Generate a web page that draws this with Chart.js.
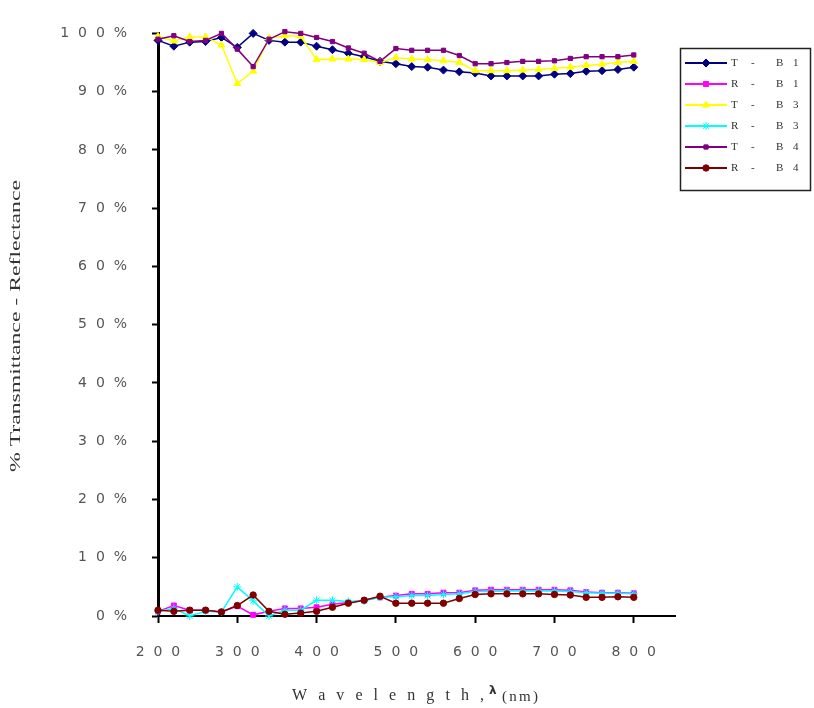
<!DOCTYPE html>
<html>
<head>
<meta charset="utf-8">
<script src="https://cdn.jsdelivr.net/npm/chart.js@4/dist/chart.umd.min.js"></script>
<style>
  html, body { margin: 0; padding: 0; background: #ffffff; }
  #wrap { width: 814px; height: 708px; position: relative; }
</style>
</head>
<body>
<div id="wrap"><canvas id="c" width="814" height="708"></canvas></div>
<script>
// ---- data ----
const wavelengths = [200,220,240,260,280,300,320,340,360,380,400,420,440,460,480,500,520,540,560,580,600,620,640,660,680,700,720,740,760,780,800];

const seriesLabels = ['T - B1', 'R - B1', 'T - B3', 'R - B3', 'T - B4', 'R - B4'];

const tB1 = [98.8,97.8,98.5,98.6,99.3,97.6,100.0,98.8,98.5,98.5,97.8,97.2,96.6,96.0,95.2,94.8,94.3,94.2,93.7,93.4,93.2,92.7,92.7,92.7,92.7,93.0,93.1,93.5,93.6,93.8,94.2];
const rB1 = [0.8,1.8,1.0,1.0,0.7,1.7,0.2,0.8,1.3,1.3,1.5,2.0,2.3,2.7,3.2,3.5,3.8,3.8,4.0,4.0,4.4,4.5,4.5,4.5,4.5,4.5,4.4,4.1,4.0,4.0,3.9];
const tB3 = [99.5,98.7,99.4,99.4,98.0,91.4,93.5,99.2,99.6,99.5,95.5,95.6,95.6,95.5,95.0,95.8,95.6,95.5,95.3,95.0,93.6,93.6,93.6,93.7,93.8,94.0,94.2,94.5,94.7,95.0,95.2];
const rB3 = [0.8,1.3,0.0,0.8,0.7,5.0,2.6,0.0,1.0,1.0,2.7,2.7,2.5,2.6,3.2,3.3,3.5,3.5,3.7,3.8,4.2,4.2,4.3,4.3,4.3,4.3,4.2,4.0,3.9,3.9,3.8];
const tB4 = [99.0,99.6,98.6,98.8,100.0,97.3,94.3,99.0,100.3,100.0,99.3,98.6,97.5,96.6,95.2,97.4,97.1,97.1,97.1,96.2,94.8,94.8,95.0,95.2,95.2,95.3,95.7,96.0,96.0,96.0,96.3];
const rB4 = [1.0,0.8,1.0,1.0,0.7,1.8,3.6,0.8,0.3,0.5,0.8,1.5,2.2,2.7,3.4,2.2,2.2,2.2,2.2,3.0,3.7,3.8,3.8,3.8,3.8,3.7,3.6,3.2,3.2,3.3,3.2];

const yTicks = [0,10,20,30,40,50,60,70,80,90,100];
const xTicks = [200,300,400,500,600,700,800];
const xTitle = ['Wavelength,', 'λ', '(nm)'];
const yTitle = '% Transmittance - Reflectance';

// ---- styles ----
const allSeries = [tB1, rB1, tB3, rB3, tB4, rB4];
const colors = ['#000080', '#ff00ff', '#ffff00', '#00ffff', '#800080', '#800000'];
const markers = ['rectRot', 'rect', 'triangle', 'star', 'rect', 'circle'];
const radii = [4, 3.5, 4, 4, 3, 3.2];

const spaced = s => String(s).split('').join('  ');

const datasets = allSeries.map((vals, i) => ({
  label: seriesLabels[i],
  data: wavelengths.map((w, k) => ({ x: w, y: vals[k] })),
  borderColor: colors[i],
  backgroundColor: colors[i],
  borderWidth: 1.5,
  pointStyle: markers[i],
  pointRadius: radii[i],
  pointBorderWidth: 1,
  pointBackgroundColor: colors[i],
  pointBorderColor: colors[i],
  tension: 0,
  clip: false,
  order: 6 - i
}));

function drawFit(ctx, text, x0, x1, y) {
  const chars = text.split('');
  const widths = chars.map(c => ctx.measureText(c).width);
  const total = widths.reduce((a, b) => a + b, 0);
  const gap = chars.length > 1 ? ((x1 - x0) - total) / (chars.length - 1) : 0;
  let x = x0;
  ctx.textAlign = 'left';
  chars.forEach((c, k) => { ctx.fillText(c, x, y); x += widths[k] + gap; });
}

const decor = {
  id: 'decor',
  afterDraw(chart) {
    const ctx = chart.ctx;
    ctx.save();
    // y title (stretched)
    ctx.fillStyle = '#333333';
    ctx.font = '15px "Liberation Serif"';
    ctx.textBaseline = 'middle';
    ctx.textAlign = 'center';
    const w = ctx.measureText(yTitle).width;
    ctx.translate(16, 326);
    ctx.rotate(-Math.PI / 2);
    ctx.scale(292 / w, 1);
    ctx.fillText(yTitle, 0, 0);
    ctx.restore();

    // x title
    ctx.save();
    ctx.fillStyle = '#333333';
    ctx.textBaseline = 'alphabetic';
    ctx.font = '16px "Liberation Serif"';
    drawFit(ctx, xTitle[0], 292, 484, 700);
    ctx.font = 'bold 12px "DejaVu Sans"';
    ctx.fillText(xTitle[1], 489, 694);
    ctx.font = '15px "Liberation Serif"';
    drawFit(ctx, xTitle[2], 502, 538, 701);
    ctx.restore();

    // legend
    ctx.save();
    ctx.strokeStyle = '#222222';
    ctx.lineWidth = 1.5;
    ctx.strokeRect(680.5, 48.5, 130, 142);
    const rowY = [63, 84, 105, 126, 147, 168];
    chart.data.datasets.forEach((ds, i) => {
      const y = rowY[i];
      ctx.strokeStyle = ds.borderColor;
      ctx.fillStyle = ds.borderColor;
      ctx.lineWidth = 2;
      ctx.beginPath();
      ctx.moveTo(685, y);
      ctx.lineTo(727, y);
      ctx.stroke();
      ctx.lineWidth = 1;
      Chart.helpers.drawPoint(ctx, { pointStyle: ds.pointStyle, radius: ds.pointRadius, borderWidth: 1, rotation: 0 }, 706, y);
      ctx.fillStyle = '#333333';
      ctx.font = '11px "Liberation Serif"';
      ctx.textBaseline = 'middle';
      ctx.textAlign = 'left';
      const parts = ds.label.replace(/\s+/g, '').split('');
      const xs = [731, 751, 776, 793];
      parts.forEach((p, k) => ctx.fillText(p, xs[k], y));
    });
    ctx.restore();
  }
};

new Chart(document.getElementById('c'), {
  type: 'line',
  data: { datasets },
  options: {
    responsive: false,
    animation: false,
    devicePixelRatio: 1,
    layout: { padding: { left: 0, right: 139, top: 16, bottom: 0 } },
    plugins: { legend: { display: false }, tooltip: { enabled: false }, title: { display: false } },
    scales: {
      x: {
        type: 'linear',
        min: 200,
        max: 852,
        afterFit: s => { s.height = 92; },
        afterBuildTicks: s => { s.ticks = xTicks.map(v => ({ value: v })); },
        ticks: { includeBounds: false, stepSize: 100, padding: 21, maxRotation: 0, autoSkip: false,
                 color: '#555555', font: { family: '"DejaVu Sans"', size: 14 }, callback: v => spaced(v) },
        grid: { drawOnChartArea: false, drawTicks: true, tickLength: 7, tickColor: '#000', tickWidth: 2 },
        border: { display: true, color: '#000', width: 2 }
      },
      y: {
        min: 0,
        max: 100,
        afterFit: s => { s.width = 158; },
        afterBuildTicks: s => { s.ticks = yTicks.map(v => ({ value: v })); },
        ticks: { stepSize: 10, padding: 25, color: '#555555', font: { family: '"DejaVu Sans"', size: 14 },
                 callback: v => spaced(v) + '  %' },
        grid: { drawOnChartArea: false, drawTicks: true, tickLength: 6, tickColor: '#000', tickWidth: 2 },
        border: { display: true, color: '#000', width: 3 }
      }
    }
  },
  plugins: [decor]
});
</script>
</body>
</html>
